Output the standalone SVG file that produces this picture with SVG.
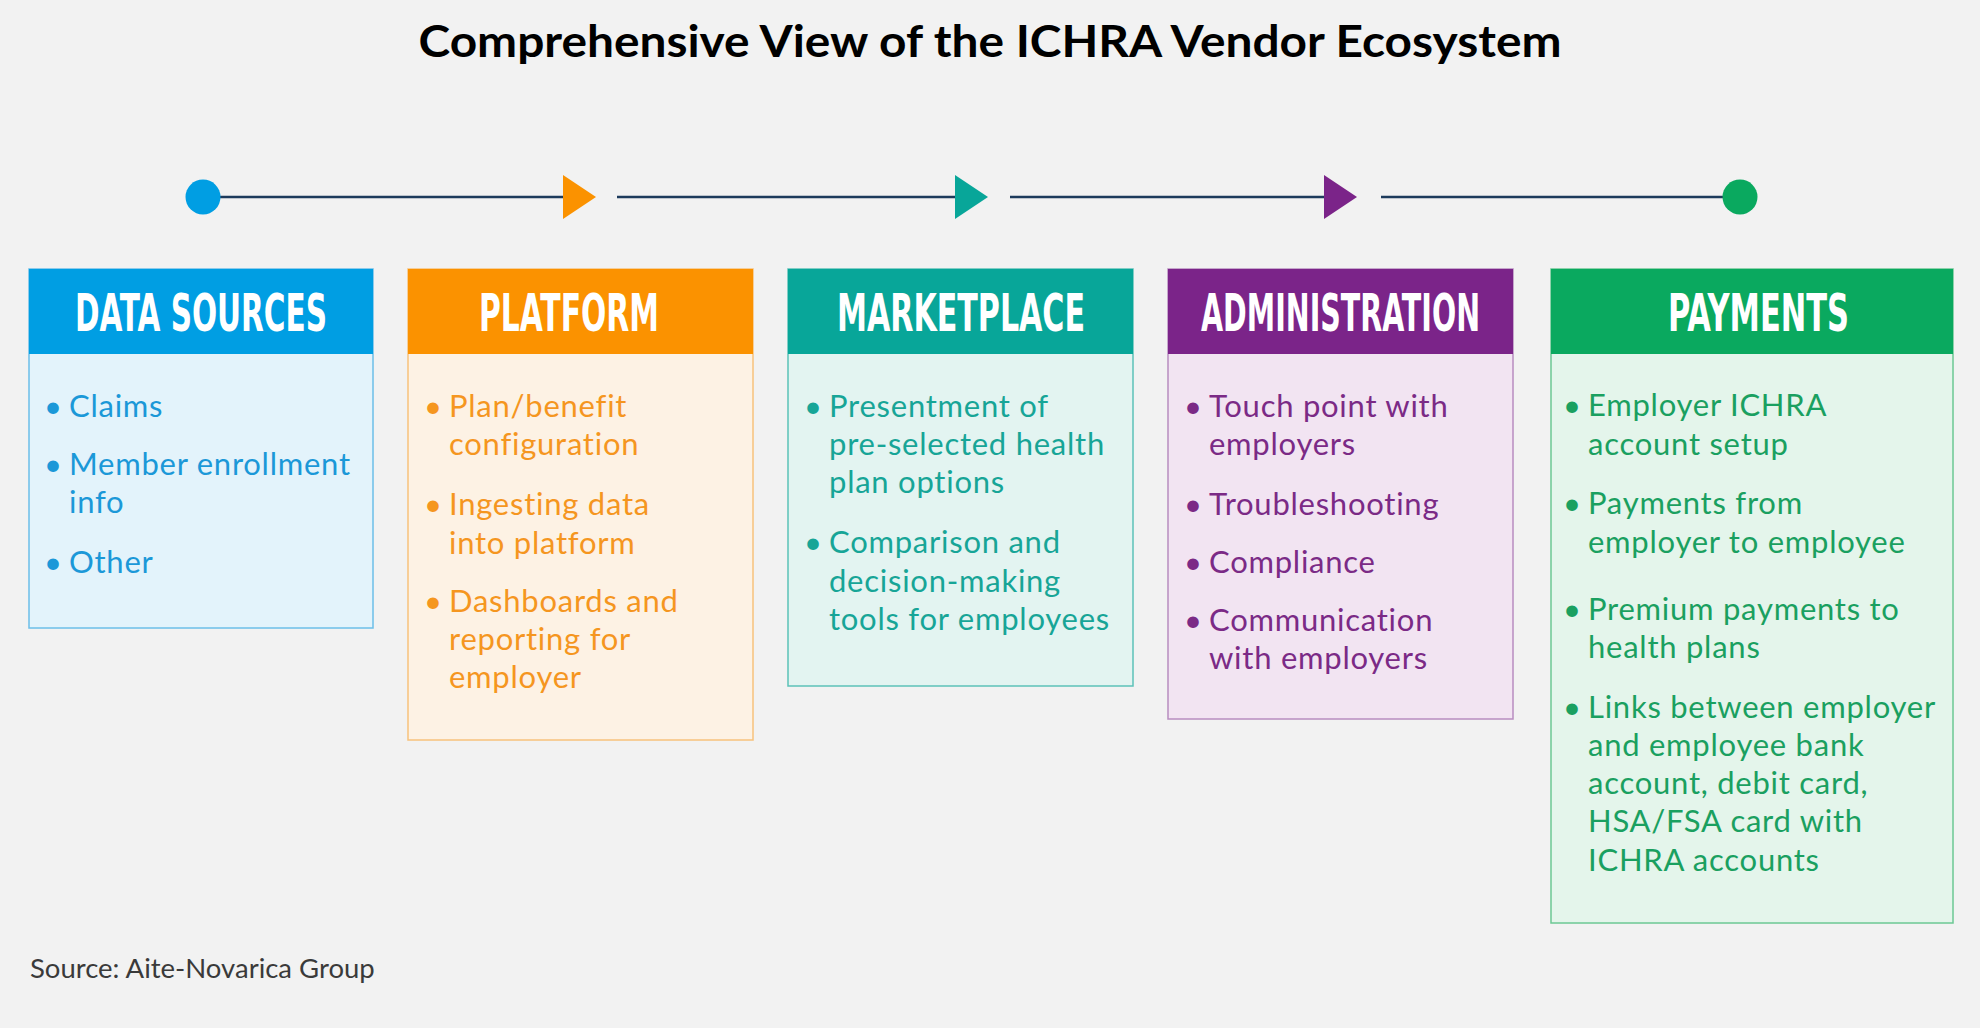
<svg xmlns="http://www.w3.org/2000/svg" width="1980" height="1028" viewBox="0 0 1980 1028">
<style>
.title{font-family:Lato,"Noto Sans",sans-serif;font-weight:700;font-size:44px;fill:#000}
.hd{font-family:"DejaVu Sans Condensed","DejaVu Sans",sans-serif;font-weight:700;font-size:52px;fill:#fff}
.t{font-family:Lato,"Noto Sans",sans-serif;font-size:31px;letter-spacing:0.75px}
.b{font-family:Lato,"Noto Sans",sans-serif;font-size:31px;text-anchor:middle}
.src{font-family:Lato,"Noto Sans",sans-serif;font-size:27.5px;fill:#3a3a3a}
.line{stroke:#1d3b5c;stroke-width:2.5;fill:none}
.blue .t,.blue .b{fill:#1b98d8}
.orange .t,.orange .b{fill:#f5961f}
.teal .t,.teal .b{fill:#17a597}
.purple .t,.purple .b{fill:#7b2a86}
.green .t,.green .b{fill:#1aa060}
</style>
<rect width="1980" height="1028" fill="#f2f2f2"/>
<text class="title" x="990" y="57" text-anchor="middle" textLength="1143" lengthAdjust="spacingAndGlyphs">Comprehensive View of the ICHRA Vendor Ecosystem</text>

<g id="connectors">
<line class="line" x1="203" y1="197" x2="565" y2="197"/>
<line class="line" x1="617" y1="197" x2="957" y2="197"/>
<line class="line" x1="1010" y1="197" x2="1326" y2="197"/>
<line class="line" x1="1381" y1="197" x2="1740" y2="197"/>
</g>

<g id="timeline-markers">
<circle id="start" cx="203" cy="197" r="17.5" fill="#009ee3"/>
<polygon points="563,175 596,197 563,219" fill="#fb9200"/>
<polygon points="955,175 988,197 955,219" fill="#08a699"/>
<polygon points="1324,175 1357,197 1324,219" fill="#7b2489"/>
<circle id="end" cx="1740" cy="197" r="17.5" fill="#0aa95f"/>
</g>

<g id="data-sources" class="blue">
<rect x="29" y="269" width="344" height="359" fill="#e3f3fb" stroke="#6cbfe9" stroke-width="1.5"/>
<rect x="29" y="269" width="344" height="85" fill="#009ee3"/>
<text class="hd" x="201" y="331" text-anchor="middle" textLength="252" lengthAdjust="spacingAndGlyphs">DATA SOURCES</text>
<text class="b" x="53" y="417">•</text><text class="t" x="69" y="417">Claims</text>
<text class="b" x="53" y="475">•</text><text class="t" x="69" y="475">Member enrollment</text>
<text class="t" x="69" y="513">info</text>
<text class="b" x="53" y="573">•</text><text class="t" x="69" y="573">Other</text>
</g>

<g id="platform" class="orange">
<rect x="408" y="269" width="345" height="471" fill="#fdf2e4" stroke="#f7c27c" stroke-width="1.5"/>
<rect x="408" y="269" width="345" height="85" fill="#fb9200"/>
<text class="hd" x="569" y="331" text-anchor="middle" textLength="180" lengthAdjust="spacingAndGlyphs">PLATFORM</text>
<text class="b" x="433" y="417">•</text><text class="t" x="449" y="417">Plan/benefit</text>
<text class="t" x="449" y="455">configuration</text>
<text class="b" x="433" y="515">•</text><text class="t" x="449" y="515">Ingesting data</text>
<text class="t" x="449" y="554">into platform</text>
<text class="b" x="433" y="612">•</text><text class="t" x="449" y="612">Dashboards and</text>
<text class="t" x="449" y="650">reporting for</text>
<text class="t" x="449" y="688">employer</text>
</g>

<g id="marketplace" class="teal">
<rect x="788" y="269" width="345" height="417" fill="#e3f4f1" stroke="#5cc2b8" stroke-width="1.5"/>
<rect x="788" y="269" width="345" height="85" fill="#08a699"/>
<text class="hd" x="961" y="331" text-anchor="middle" textLength="248" lengthAdjust="spacingAndGlyphs">MARKETPLACE</text>
<text class="b" x="813" y="417">•</text><text class="t" x="829" y="417">Presentment of</text>
<text class="t" x="829" y="455">pre-selected health</text>
<text class="t" x="829" y="493">plan options</text>
<text class="b" x="813" y="553">•</text><text class="t" x="829" y="553">Comparison and</text>
<text class="t" x="829" y="592">decision-making</text>
<text class="t" x="829" y="630">tools for employees</text>
</g>

<g id="administration" class="purple">
<rect x="1168" y="269" width="345" height="450" fill="#f2e4f2" stroke="#b88dc0" stroke-width="1.5"/>
<rect x="1168" y="269" width="345" height="85" fill="#7b2489"/>
<text class="hd" x="1340.5" y="331" text-anchor="middle" textLength="279" lengthAdjust="spacingAndGlyphs">ADMINISTRATION</text>
<text class="b" x="1193" y="417">•</text><text class="t" x="1209" y="417">Touch point with</text>
<text class="t" x="1209" y="455">employers</text>
<text class="b" x="1193" y="515">•</text><text class="t" x="1209" y="515">Troubleshooting</text>
<text class="b" x="1193" y="573">•</text><text class="t" x="1209" y="573">Compliance</text>
<text class="b" x="1193" y="631">•</text><text class="t" x="1209" y="631">Communication</text>
<text class="t" x="1209" y="669">with employers</text>
</g>

<g id="payments" class="green">
<rect x="1551" y="269" width="402" height="654" fill="#e4f5eb" stroke="#6cc894" stroke-width="1.5"/>
<rect x="1551" y="269" width="402" height="85" fill="#0aa95f"/>
<text class="hd" x="1758.5" y="331" text-anchor="middle" textLength="181" lengthAdjust="spacingAndGlyphs">PAYMENTS</text>
<text class="b" x="1572" y="416">•</text><text class="t" x="1588" y="416">Employer ICHRA</text>
<text class="t" x="1588" y="455">account setup</text>
<text class="b" x="1572" y="514">•</text><text class="t" x="1588" y="514">Payments from</text>
<text class="t" x="1588" y="553">employer to employee</text>
<text class="b" x="1572" y="620">•</text><text class="t" x="1588" y="620">Premium payments to</text>
<text class="t" x="1588" y="658">health plans</text>
<text class="b" x="1572" y="718">•</text><text class="t" x="1588" y="718">Links between employer</text>
<text class="t" x="1588" y="756">and employee bank</text>
<text class="t" x="1588" y="794">account, debit card,</text>
<text class="t" x="1588" y="832">HSA/FSA card with</text>
<text class="t" x="1588" y="871">ICHRA accounts</text>
</g>

<text class="src" x="30" y="978">Source: Aite-Novarica Group</text>
</svg>
